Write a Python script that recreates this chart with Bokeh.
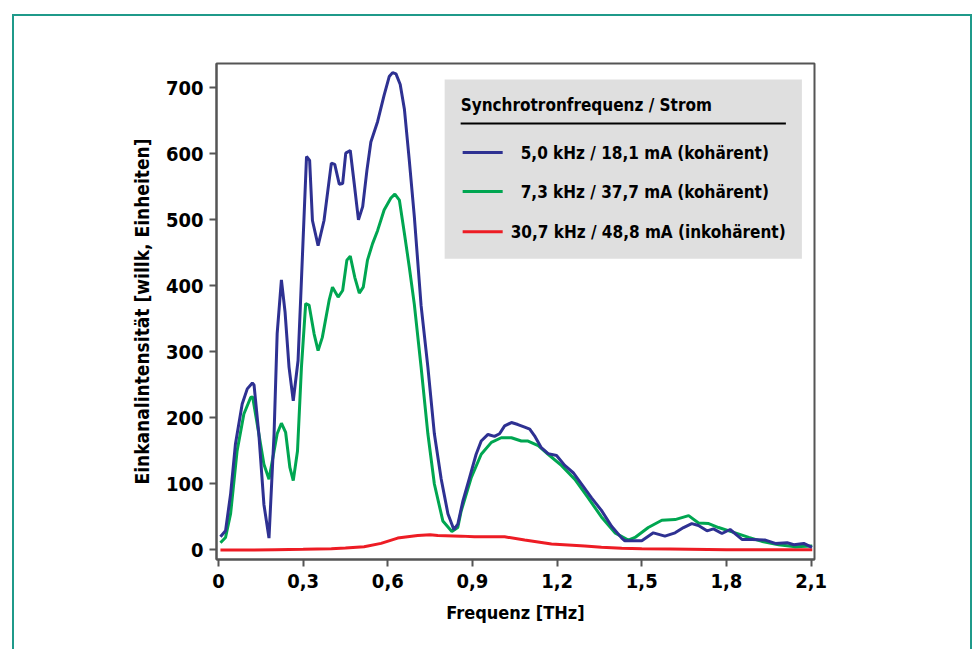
from bokeh.plotting import figure
from bokeh.models import Range1d, FixedTicker, BoxAnnotation, Label
from bokeh.embed import file_html
from bokeh.resources import INLINE

# ---------------- data ----------------
freq_coh1 = [0.007, 0.025, 0.043, 0.060, 0.084, 0.102, 0.120, 0.126, 0.143, 0.161,
             0.179, 0.197, 0.208, 0.223, 0.236, 0.250, 0.265, 0.282, 0.291, 0.312,
             0.323, 0.333, 0.353, 0.374, 0.400, 0.412, 0.428, 0.440, 0.451, 0.467,
             0.481, 0.496, 0.511, 0.526, 0.540, 0.564, 0.587, 0.605, 0.617, 0.629,
             0.644, 0.659, 0.676, 0.694, 0.718, 0.742, 0.765, 0.789, 0.813, 0.834,
             0.848, 0.866, 0.890, 0.913, 0.931, 0.955, 0.978, 0.996, 1.014, 1.038,
             1.061, 1.085, 1.103, 1.120, 1.144, 1.168, 1.198, 1.227, 1.257, 1.286,
             1.322, 1.357, 1.393, 1.429, 1.440, 1.500, 1.541, 1.582, 1.618, 1.648,
             1.677, 1.701, 1.731, 1.754, 1.784, 1.813, 1.855, 1.891, 1.938, 1.973,
             2.015, 2.039, 2.074, 2.103]
int_coh1 = [20, 29, 85, 160, 221, 244, 253, 250, 176, 69,
            18, 176, 328, 409, 360, 277, 226, 287, 378, 596,
            590, 499, 461, 499, 586, 584, 554, 555, 601, 605,
            555, 500, 520, 575, 618, 649, 689, 717, 723, 721,
            705, 667, 591, 505, 370, 277, 176, 108, 55, 31,
            39, 74, 110, 145, 165, 175, 172, 176, 188, 193,
            190, 186, 183, 173, 155, 146, 143, 128, 117, 100,
            79, 60, 36, 18, 14, 14, 26, 21, 26, 34,
            40, 37, 29, 32, 25, 31, 16, 16, 15, 10,
            11, 8, 10, 4]

freq_coh2 = [0.007, 0.025, 0.043, 0.066, 0.090, 0.114, 0.121, 0.143, 0.161, 0.179,
             0.197, 0.208, 0.223, 0.238, 0.253, 0.265, 0.280, 0.294, 0.309, 0.321,
             0.339, 0.353, 0.368, 0.392, 0.404, 0.424, 0.440, 0.455, 0.467, 0.483,
             0.499, 0.513, 0.528, 0.546, 0.564, 0.587, 0.611, 0.625, 0.641, 0.659,
             0.676, 0.694, 0.718, 0.742, 0.765, 0.795, 0.827, 0.848, 0.860, 0.896,
             0.931, 0.967, 1.002, 1.038, 1.073, 1.097, 1.133, 1.168, 1.215, 1.263,
             1.310, 1.357, 1.405, 1.452, 1.476, 1.523, 1.571, 1.618, 1.666, 1.701,
             1.737, 1.772, 1.831, 1.879, 1.926, 1.985, 2.044, 2.104]
int_coh2 = [11, 19, 55, 150, 206, 231, 232, 176, 130, 107,
            150, 176, 192, 178, 125, 105, 150, 277, 373, 371,
            327, 302, 322, 378, 398, 383, 393, 439, 445, 413,
            389, 398, 439, 464, 484, 515, 533, 539, 530, 479,
            429, 372, 277, 176, 100, 44, 28, 34, 59, 110,
            145, 163, 170, 170, 165, 165, 158, 145, 128, 107,
            79, 50, 26, 15, 19, 34, 45, 46, 52, 41,
            40, 34, 26, 19, 13, 8, 5, 6]

freq_inc = [0.007, 0.100, 0.200, 0.300, 0.400, 0.450, 0.516, 0.576, 0.635, 0.706,
            0.750, 0.777, 0.860, 0.907, 1.014, 1.085, 1.180, 1.298, 1.357, 1.429,
            1.500, 1.600, 1.800, 2.000, 2.104]
int_inc = [0, 0, 0.5, 1, 2, 3, 5, 10, 18, 22,
           23, 22, 21, 20, 20, 15, 9, 6, 4, 2.6,
           2, 1.5, 0.5, 0.3, 0.3]

x_ticks = [0, 0.3, 0.6, 0.9, 1.2, 1.5, 1.8, 2.1]
x_tick_labels = ["0", "0,3", "0,6", "0,9", "1,2", "1,5", "1,8", "2,1"]
y_ticks = [0, 100, 200, 300, 400, 500, 600, 700]

legend_title = "Synchrotronfrequenz / Strom"
series_labels = ["5,0 kHz / 18,1 mA (kohärent)",
                 "7,3 kHz / 37,7 mA (kohärent)",
                 "30,7 kHz / 48,8 mA (inkohärent)"]
series_colors = ["#2e3192", "#00a651", "#ed1c24"]

x_label = "Frequenz [THz]"
y_label = "Einkanalintensität [willk, Einheiten]"

FONT = "DejaVu Sans Condensed"

# ---------------- figure ----------------
p = figure(width=960, height=635,
           x_range=Range1d(-0.007, 2.112), y_range=Range1d(-14.4, 736.8),
           output_backend="svg", toolbar_location=None,
           min_border_left=202, min_border_right=160,
           min_border_top=47, min_border_bottom=92)
p.styles = {"border-left": "2px solid #1f9a8a", "border-top": "2px solid #1f9a8a",
            "border-right": "2px solid #1f9a8a",
            "margin-left": "12px", "margin-top": "14px"}

p.grid.visible = False
p.outline_line_color = "#555555"
p.outline_line_width = 2
p.background_fill_color = "white"
p.border_fill_color = "white"

p.xaxis.ticker = FixedTicker(ticks=x_ticks)
p.xaxis.major_label_overrides = {t: l for t, l in zip(x_ticks, x_tick_labels)}
p.yaxis.ticker = FixedTicker(ticks=y_ticks)
p.xaxis.axis_label = x_label
p.yaxis.axis_label = y_label

for ax in (p.xaxis, p.yaxis):
    ax.axis_line_color = "#555555"
    ax.axis_line_width = 2
    ax.major_tick_line_color = "#555555"
    ax.major_tick_line_width = 2
    ax.major_tick_out = 7
    ax.major_tick_in = 0
    ax.minor_tick_line_color = None
    ax.major_label_text_font = FONT
    ax.major_label_text_font_style = "bold"
    ax.major_label_text_font_size = "20px"
    ax.major_label_text_color = "black"
    ax.axis_label_text_font = FONT
    ax.axis_label_text_font_style = "bold"
    ax.axis_label_text_color = "black"
p.xaxis.axis_label_text_font_size = "18px"
p.yaxis.axis_label_text_font_size = "19px"
p.xaxis.major_label_standoff = 7
p.yaxis.major_label_standoff = 6
p.xaxis.axis_label_standoff = 11
p.yaxis.axis_label_standoff = 10

# ---------------- legend geometry (original picture px -> data) ----------------
def X(px):
    return (px - 218) / 282.0

def Y(py):
    return (549 - py) / 0.6596

box = BoxAnnotation(left=X(444), right=X(801), top=Y(79), bottom=Y(258),
                    fill_color="#dfdfdf", fill_alpha=1.0, line_color=None,
                    level="underlay")
p.add_layout(box)

p.segment(x0=[X(460)], x1=[X(785)], y0=[Y(123)], y1=[Y(123)],
          line_color="black", line_width=2)
p.add_layout(Label(x=X(460), y=Y(104), text=legend_title, text_font=FONT,
                   text_font_style="bold", text_font_size="17px",
                   text_baseline="middle", text_align="left", text_color="black"))

row_y = [152, 191, 231]
text_x = [520, 520, 510]
for lab, col, ry, tx in zip(series_labels, series_colors, row_y, text_x):
    p.segment(x0=[X(462)], x1=[X(502)], y0=[Y(ry)], y1=[Y(ry)],
              line_color=col, line_width=3)
    p.add_layout(Label(x=X(tx), y=Y(ry), text=lab, text_font=FONT,
                       text_font_style="bold", text_font_size="17px",
                       text_baseline="middle", text_align="left",
                       text_color="black"))

# ---------------- curves ----------------
p.line(freq_inc, int_inc, line_color=series_colors[2], line_width=3)
p.line(freq_coh2, int_coh2, line_color=series_colors[1], line_width=3)
p.line(freq_coh1, int_coh1, line_color=series_colors[0], line_width=3)

open("out.html", "w").write(file_html(p, INLINE))
